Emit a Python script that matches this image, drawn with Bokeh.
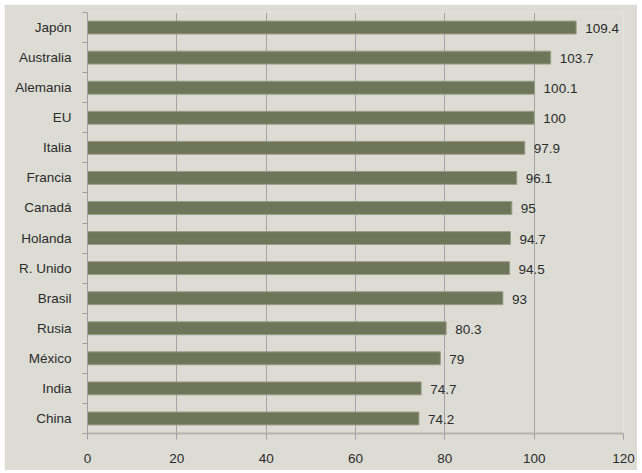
from bokeh.plotting import figure
from bokeh.models import (Range1d, FixedTicker, LinearAxis, ColumnDataSource)
from bokeh.core.properties import value
from bokeh.embed import file_html
from bokeh.resources import INLINE

countries = ["Japón", "Australia", "Alemania", "EU", "Italia", "Francia", "Canadá",
             "Holanda", "R. Unido", "Brasil", "Rusia", "México", "India", "China"]
values = [109.4, 103.7, 100.1, 100, 97.9, 96.1, 95, 94.7, 94.5, 93, 80.3, 79, 74.7, 74.2]
labels = ["109.4", "103.7", "100.1", "100", "97.9", "96.1", "95", "94.7", "94.5",
          "93", "80.3", "79", "74.7", "74.2"]
x_ticks = [0, 20, 40, 60, 80, 100, 120]

BG = "#dcdcd4"
BAR = "#6f7558"
TXT = "#2b2b2b"
FONT = "Liberation Sans"
FS = "13.5px"

n = len(countries)
ypos = [n - i - 0.5 for i in range(n)]
bounds = list(range(n + 1))
src = ColumnDataSource(dict(y=ypos, v=values, l=labels))

p = figure(width=633, height=466, output_backend="svg", toolbar_location=None,
           y_range=Range1d(0, n), x_range=Range1d(0, 120), y_axis_location=None,
           min_border_left=83, min_border_right=14, min_border_top=8,
           min_border_bottom=37, margin=(4, 0, 0, 4))
p.background_fill_color = BG
p.border_fill_color = BG
p.outline_line_color = None

p.hbar(y="y", right="v", left=0, height=0.43, source=src,
       fill_color=BAR, line_color="#9a9e88", line_width=1)
p.text(x="v", y="y", text="l", source=src, x_offset=9, y_offset=1,
       text_baseline="middle", text_align="left", text_color=TXT,
       text_font=value(FONT), text_font_size=FS)

# x axis
xa = p.xaxis[0]
xa.ticker = FixedTicker(ticks=x_ticks)
xa.axis_line_color = "#b4b4ac"
xa.axis_line_width = 2
xa.major_tick_line_color = "#a0a0a0"
xa.major_tick_in = 0
xa.major_tick_out = 6
xa.minor_tick_line_color = None
xa.major_label_text_font = FONT
xa.major_label_text_font_size = FS
xa.major_label_text_color = TXT
xa.major_label_standoff = 14

p.xgrid.ticker = FixedTicker(ticks=x_ticks)
p.xgrid.grid_line_color = "#a4a4a6"
p.ygrid.grid_line_color = None

# y axis: labels at band centres, tick marks at band boundaries
ya = LinearAxis(ticker=FixedTicker(ticks=ypos, minor_ticks=bounds),
                major_label_overrides={y: c for y, c in zip(ypos, countries)},
                axis_line_color="#a0a0a0", major_tick_line_color=None,
                major_tick_in=0, major_tick_out=0,
                minor_tick_line_color="#a0a0a0", minor_tick_in=0, minor_tick_out=5,
                major_label_text_font=FONT, major_label_text_font_size=FS,
                major_label_text_color=TXT, major_label_standoff=11)
p.add_layout(ya, "left")

open("out.html", "w").write(file_html(p, INLINE))
